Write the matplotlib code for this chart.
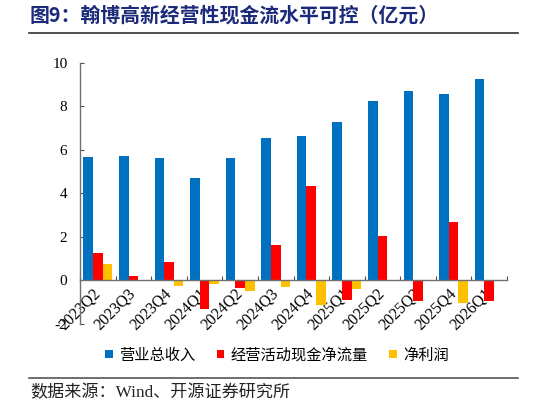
import matplotlib
matplotlib.use("Agg")
import matplotlib.pyplot as plt
from matplotlib.patches import Patch
from matplotlib.lines import Line2D
import numpy as np

categories = ["2023Q2", "2023Q3", "2023Q4", "2024Q1", "2024Q2", "2024Q3",
              "2024Q4", "2025Q1", "2025Q2", "2025Q3", "2025Q4", "2026Q1"]
revenue = [5.67, 5.71, 5.60, 4.70, 5.60, 6.53, 6.63, 7.27, 8.25, 8.69, 8.54, 9.26]
op_cash = [1.24, 0.18, 0.83, -1.32, -0.37, 1.61, 4.33, -0.92, 2.02, -0.97, 2.69, -0.97]
net_profit = [0.76, 0.0, -0.28, -0.15, -0.48, -0.33, -1.12, -0.42, 0.0, 0.02, -1.05, 0.02]
series_names = ["营业总收入", "经营活动现金净流量", "净利润"]
colors = ["#0070C0", "#FF0000", "#FFC000"]
yticks = [-2, 0, 2, 4, 6, 8, 10]

W, H = 546, 407
fig = plt.figure(figsize=(W / 100, H / 100), dpi=100)
ax = fig.add_axes([80 / W, 1 - 323.8 / H, 427 / W, (323.8 - 62.7) / H])

x = np.arange(len(categories))
bw = 0.27
for off, vals, c in zip([-bw, 0, bw], [revenue, op_cash, net_profit], colors):
    ax.bar(x + off, vals, width=bw, color=c, zorder=2)

ax.set_xlim(-0.5, len(categories) - 0.5)
ax.set_ylim(-2, 10)
ax.set_yticks(yticks)
ax.set_yticklabels([str(v) for v in yticks], fontfamily="Liberation Serif", fontsize=11)

ax.spines["top"].set_visible(False)
ax.spines["right"].set_visible(False)
ax.spines["bottom"].set_position(("data", 0))
for s in ("left", "bottom"):
    ax.spines[s].set_color("#707070")
    ax.spines[s].set_linewidth(1.0)
    ax.spines[s].set_zorder(3)

ax.tick_params(axis="y", direction="in", length=3, width=0.8, color="#505050", pad=9)
ax.set_xticks(x)
ax.set_xticklabels(categories, fontfamily="Liberation Serif", fontsize=11.5,
                   rotation=45, ha="right", va="center", rotation_mode="anchor")
ax.tick_params(axis="x", which="major", length=0, pad=8)
ax.set_xticks(np.arange(-0.5, len(categories)), minor=True)
ax.tick_params(axis="x", which="minor", direction="in", length=3, width=0.8, color="#505050")

# Title
fig.text(30 / W, 1 - 15 / H, "图9：翰博高新经营性现金流水平可控（亿元）",
         fontfamily=["Noto Sans CJK SC"], fontweight="bold", fontsize=14.3,
         color="#1C2A7A", ha="left", va="center")
fig.add_artist(Line2D([29 / W, 518 / W], [1 - 33.3 / H, 1 - 33.3 / H],
                      transform=fig.transFigure, color="#333333", lw=1.2))
fig.add_artist(Line2D([29 / W, 518 / W], [1 - 377.7 / H, 1 - 377.7 / H],
                      transform=fig.transFigure, color="#555555", lw=1.2))
fig.text(30 / W, 1 - 393 / H, "数据来源：Wind、开源证券研究所",
         fontfamily=["Liberation Serif", "Noto Sans CJK SC"], fontsize=12.3,
         color="#222222", ha="left", va="center")

handles = [Patch(facecolor=c, edgecolor="none") for c in colors]
fig.legend(handles, series_names, loc="center", bbox_to_anchor=(277 / W, 1 - 355 / H),
           ncol=3, frameon=False, prop={"family": "Noto Sans CJK SC", "size": 11},
           handlelength=0.5, handleheight=0.5, handletextpad=0.4, columnspacing=1.4,
           borderaxespad=0, borderpad=0)

fig.savefig("out.png", dpi=100)
